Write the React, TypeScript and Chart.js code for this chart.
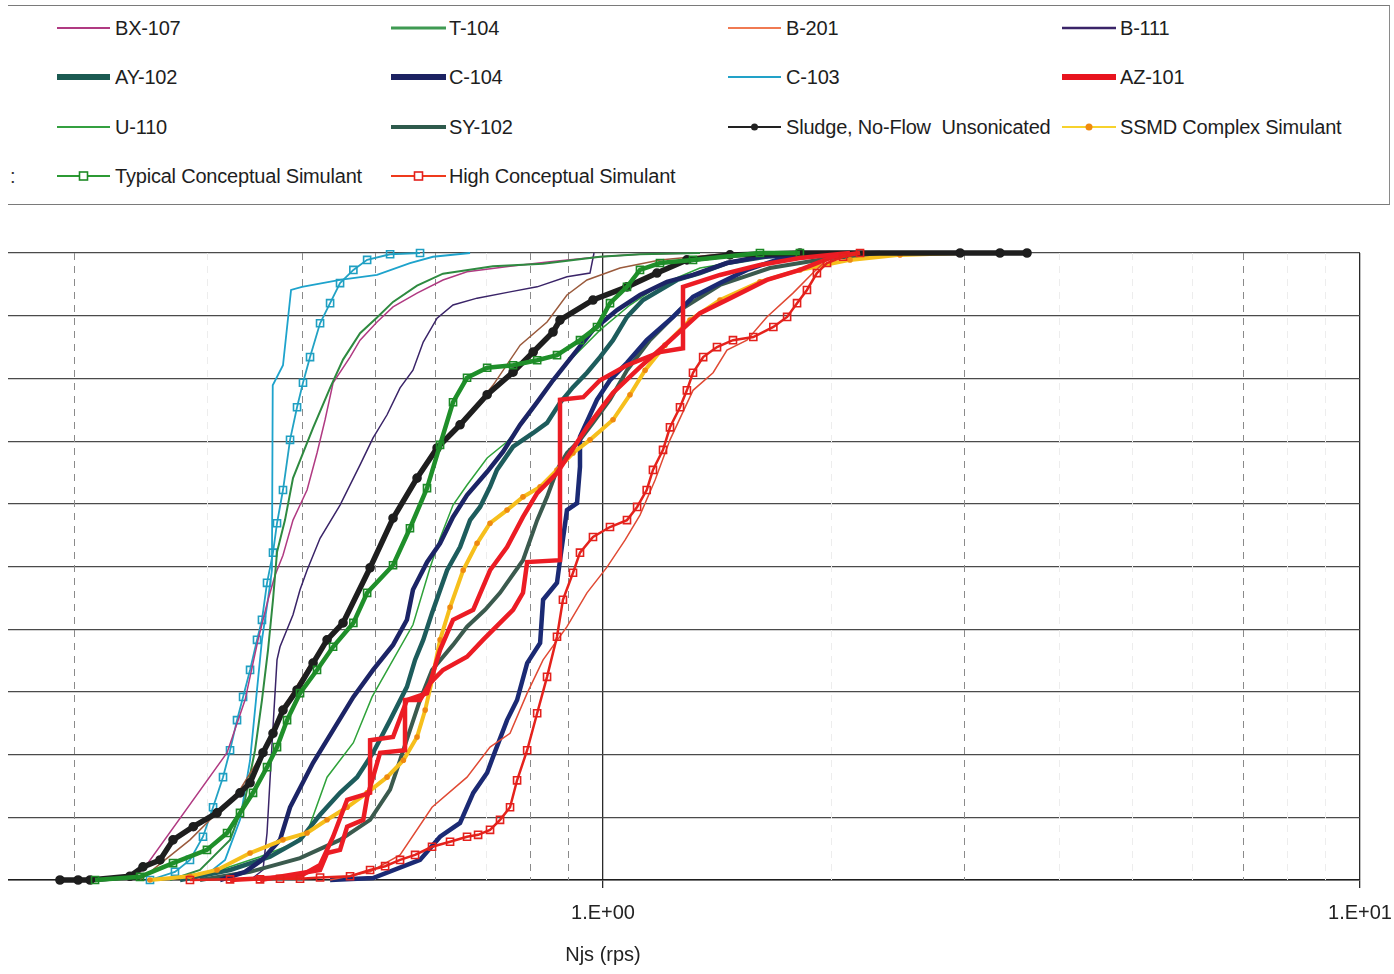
import React, { useEffect, useRef } from 'react';
import { Chart, registerables } from 'chart.js';

Chart.register(...registerables);

const FONT = '"Liberation Sans", Arial, Helvetica, sans-serif';

// ---------- data (Njs in rps, cumulative fraction) ----------
const bx107Njs = [0.2372, 0.2468, 0.3187, 0.3366, 0.3502, 0.361, 0.3688, 0.3778, 0.3895, 0.3979, 0.4065, 0.419, 0.4294, 0.44, 0.4633, 0.4776, 0.5029, 0.528, 0.568, 0.6146, 0.6613, 0.7537, 0.8511, 0.9909, 1.1191, 1.3431];
const bx107Frac = [0, 0.016, 0.203, 0.287, 0.383, 0.447, 0.486, 0.518, 0.574, 0.598, 0.622, 0.681, 0.734, 0.793, 0.834, 0.861, 0.89, 0.914, 0.936, 0.957, 0.97, 0.979, 0.986, 0.994, 0.998, 1];

const t104Njs = [0.2679, 0.2935, 0.3216, 0.3366, 0.347, 0.3544, 0.361, 0.3665, 0.371, 0.3801, 0.3895, 0.414, 0.436, 0.4535, 0.4776, 0.5029, 0.528, 0.568, 0.6146, 0.7155, 0.8334, 0.9909, 1.1191, 1.3431];
const t104Frac = [0, 0.016, 0.064, 0.128, 0.207, 0.287, 0.367, 0.447, 0.523, 0.574, 0.641, 0.721, 0.785, 0.83, 0.872, 0.897, 0.922, 0.948, 0.967, 0.979, 0.983, 0.994, 0.998, 1];

const b201Njs = [0.436, 0.4924, 0.5394, 0.5945, 0.6613, 0.7092, 0.7537, 0.794, 0.8334, 0.8962, 0.9524, 1.0123, 1.0692, 1.1191, 1.1717, 1.226, 1.3149, 1.3977, 1.4581, 1.5494, 1.6463, 1.7822, 1.8931, 1.9765, 2.12];
const b201Frac = [0, 0.013, 0.04, 0.116, 0.164, 0.212, 0.234, 0.298, 0.351, 0.404, 0.458, 0.499, 0.542, 0.582, 0.638, 0.702, 0.781, 0.809, 0.845, 0.861, 0.898, 0.936, 0.968, 0.989, 1];

const b111Njs = [0.3418, 0.3555, 0.3599, 0.3665, 0.371, 0.3744, 0.3895, 0.3979, 0.4065, 0.4229, 0.4494, 0.4776, 0.4969, 0.5185, 0.5394, 0.561, 0.5788, 0.6037, 0.6337, 0.6818, 0.7537, 0.8185, 0.8962, 0.9612, 0.973];
const b111Frac = [0, 0.016, 0.075, 0.244, 0.351, 0.372, 0.423, 0.463, 0.494, 0.545, 0.598, 0.662, 0.705, 0.742, 0.785, 0.813, 0.858, 0.896, 0.917, 0.928, 0.938, 0.946, 0.962, 0.968, 1];

const ay102Njs = [0.2762, 0.3216, 0.3632, 0.3979, 0.4229, 0.4494, 0.4733, 0.4969, 0.5233, 0.5508, 0.5646, 0.5788, 0.5945, 0.6224, 0.6474, 0.6674, 0.688, 0.7092, 0.7243, 0.7607, 0.8087, 0.8435, 0.8774, 0.9128, 0.9524, 0.9909, 1.0309, 1.0757, 1.1294, 1.1893, 1.2525, 1.3431, 1.4581, 1.6616, 1.995];
const ay102Frac = [0, 0.016, 0.037, 0.064, 0.104, 0.139, 0.164, 0.203, 0.255, 0.308, 0.351, 0.383, 0.426, 0.494, 0.531, 0.574, 0.595, 0.627, 0.654, 0.691, 0.713, 0.729, 0.761, 0.786, 0.809, 0.834, 0.861, 0.898, 0.925, 0.941, 0.957, 0.968, 0.984, 0.995, 1];

const c104Njs = [0.3119, 0.3366, 0.3544, 0.3744, 0.386, 0.414, 0.44, 0.468, 0.4969, 0.528, 0.5508, 0.561, 0.5855, 0.6092, 0.6337, 0.6613, 0.703, 0.7379, 0.7772, 0.8185, 0.859, 0.924, 0.97, 1.0435, 1.1191, 1.2148, 1.3149, 1.4581, 1.6119, 1.8203, 2.12];
const c104Frac = [0, 0.013, 0.032, 0.064, 0.116, 0.187, 0.239, 0.292, 0.335, 0.375, 0.415, 0.463, 0.507, 0.537, 0.579, 0.614, 0.651, 0.683, 0.726, 0.762, 0.797, 0.845, 0.877, 0.909, 0.933, 0.954, 0.965, 0.984, 0.994, 0.998, 1];

const c104bNjs = [0.436, 0.4969, 0.5732, 0.6092, 0.6474, 0.6739, 0.703, 0.7155, 0.7469, 0.77, 0.794, 0.8259, 0.8334, 0.8694, 0.8774, 0.8962, 0.924, 0.9324, 0.9324, 0.9819, 1.0215, 1.0757, 1.1422, 1.2374, 1.3149, 1.4273, 1.5494, 1.6963, 1.995, 2.3227];
const c104bFrac = [0, 0.003, 0.032, 0.069, 0.091, 0.139, 0.171, 0.196, 0.255, 0.287, 0.346, 0.378, 0.447, 0.474, 0.51, 0.59, 0.601, 0.659, 0.707, 0.766, 0.797, 0.825, 0.861, 0.898, 0.93, 0.952, 0.973, 0.989, 0.998, 1];

const c103Njs = [0.2935, 0.3168, 0.3315, 0.3418, 0.348, 0.3544, 0.3609, 0.3653, 0.3662, 0.3778, 0.3872, 0.4003, 0.4494, 0.5029, 0.5559, 0.5962, 0.6675];
const c103Frac = [0, 0.032, 0.096, 0.191, 0.287, 0.383, 0.447, 0.494, 0.789, 0.821, 0.941, 0.946, 0.957, 0.965, 0.984, 0.994, 1];

const az101Njs = [0.3216, 0.3979, 0.4229, 0.44, 0.4592, 0.4924, 0.4924, 0.528, 0.5508, 0.5855, 0.6092, 0.6337, 0.6738, 0.7092, 0.7469, 0.784, 0.8185, 0.8694, 0.9524, 1.0309, 1.1191, 1.2148, 1.3431, 1.4849, 1.6463, 1.8203, 2.0132, 2.1855];
const az101Frac = [0, 0.006, 0.024, 0.069, 0.128, 0.139, 0.223, 0.228, 0.287, 0.298, 0.367, 0.415, 0.431, 0.494, 0.531, 0.579, 0.617, 0.649, 0.722, 0.777, 0.818, 0.856, 0.904, 0.93, 0.957, 0.973, 0.994, 1];

const az101bNjs = [0.3523, 0.4229, 0.432, 0.4494, 0.4592, 0.4823, 0.488, 0.4969, 0.5076, 0.5476, 0.5476, 0.5732, 0.5909, 0.6146, 0.6613, 0.6943, 0.7311, 0.7607, 0.784, 0.794, 0.8774, 0.8774, 0.9418, 0.9909, 1.0757, 1.1893, 1.2755, 1.2755, 1.4273, 1.6119, 1.8203, 2.12];
const az101bFrac = [0, 0.016, 0.043, 0.048, 0.085, 0.096, 0.132, 0.164, 0.203, 0.207, 0.287, 0.287, 0.314, 0.335, 0.356, 0.383, 0.41, 0.431, 0.458, 0.507, 0.51, 0.766, 0.77, 0.797, 0.821, 0.842, 0.848, 0.946, 0.965, 0.981, 0.992, 1];

const u110Njs = [0.2599, 0.3119, 0.3523, 0.386, 0.4065, 0.432, 0.468, 0.4954, 0.528, 0.561, 0.5909, 0.6092, 0.6337, 0.6613, 0.703, 0.7469, 0.794, 0.8334, 0.9045, 0.9909, 1.0856, 1.1893, 1.3431, 1.6119, 1.995];
const u110Frac = [0, 0.016, 0.037, 0.056, 0.075, 0.164, 0.219, 0.292, 0.351, 0.407, 0.498, 0.545, 0.598, 0.63, 0.673, 0.699, 0.737, 0.774, 0.829, 0.877, 0.917, 0.949, 0.976, 0.992, 1];

const sy102Njs = [0.2935, 0.3418, 0.3979, 0.4494, 0.4924, 0.5233, 0.5394, 0.5559, 0.5732, 0.5945, 0.6337, 0.6613, 0.6986, 0.7311, 0.784, 0.8185, 0.8435, 0.8694, 0.8962, 0.9324, 0.97, 1.0215, 1.0757, 1.1537, 1.2639, 1.4273, 1.6616, 1.995, 2.468];
const sy102Frac = [0, 0.013, 0.035, 0.064, 0.096, 0.144, 0.191, 0.239, 0.287, 0.335, 0.375, 0.404, 0.431, 0.458, 0.51, 0.574, 0.611, 0.654, 0.681, 0.702, 0.729, 0.766, 0.813, 0.861, 0.909, 0.949, 0.976, 0.992, 1];

const brownNjs = [0.2446, 0.2639, 0.2847, 0.3073, 0.3315, 0.3523, 0.3688, 0.386, 0.414, 0.4494, 0.488, 0.5233, 0.5646, 0.6224, 0.6613, 0.7155, 0.7772, 0.8435, 0.8962, 0.9524, 1.0531, 1.1893, 1.4273, 1.8203];
const brownFrac = [0, 0.032, 0.064, 0.104, 0.144, 0.196, 0.247, 0.292, 0.351, 0.407, 0.486, 0.566, 0.638, 0.705, 0.737, 0.789, 0.853, 0.89, 0.933, 0.957, 0.976, 0.989, 0.998, 1];

const sludgeNjs = [0.1917, 0.2026, 0.2101, 0.2372, 0.2468, 0.2599, 0.2704, 0.2876, 0.3091, 0.3315, 0.3418, 0.3555, 0.3665, 0.3778, 0.3943, 0.414, 0.432, 0.4535, 0.4924, 0.528, 0.568, 0.6037, 0.6474, 0.703, 0.7607, 0.8087, 0.859, 0.8774, 0.97, 1.0757, 1.1783, 1.2907, 1.4714, 1.8203, 2.963, 3.345, 3.632];
const sludgeFrac = [0, 0, 0, 0.006, 0.021, 0.032, 0.064, 0.085, 0.107, 0.139, 0.155, 0.203, 0.234, 0.271, 0.303, 0.346, 0.383, 0.41, 0.498, 0.577, 0.641, 0.689, 0.726, 0.774, 0.81, 0.842, 0.874, 0.893, 0.925, 0.946, 0.968, 0.989, 0.997, 1, 1, 1, 1];

const ssmdNjs = [0.2521, 0.2847, 0.3091, 0.3418, 0.3778, 0.4065, 0.432, 0.4592, 0.488, 0.5185, 0.5449, 0.568, 0.5822, 0.5945, 0.6092, 0.628, 0.6535, 0.6818, 0.7092, 0.7469, 0.784, 0.8259, 0.8694, 0.9128, 0.9612, 1.0309, 1.0856, 1.1366, 1.2076, 1.3029, 1.4273, 1.6119, 1.8203, 2.12, 2.468, 2.963];
const ssmdFrac = [0, 0.006, 0.016, 0.043, 0.064, 0.075, 0.096, 0.116, 0.139, 0.164, 0.191, 0.228, 0.271, 0.319, 0.383, 0.435, 0.494, 0.537, 0.569, 0.59, 0.611, 0.627, 0.654, 0.681, 0.702, 0.734, 0.774, 0.813, 0.853, 0.893, 0.925, 0.954, 0.973, 0.989, 0.997, 1];

const typicalNjs = [0.2133, 0.2446, 0.2704, 0.2998, 0.3187, 0.3315, 0.3449, 0.3599, 0.371, 0.3825, 0.3979, 0.419, 0.44, 0.468, 0.488, 0.528, 0.5559, 0.5855, 0.6092, 0.6337, 0.6613, 0.703, 0.7607, 0.8185, 0.8694, 0.9324, 0.9819, 1.0215, 1.0757, 1.1191, 1.1893, 1.3149, 1.6119, 1.8203];
const typicalFrac = [0, 0.005, 0.027, 0.048, 0.075, 0.107, 0.139, 0.18, 0.212, 0.255, 0.298, 0.335, 0.372, 0.41, 0.458, 0.502, 0.561, 0.625, 0.694, 0.762, 0.801, 0.817, 0.821, 0.829, 0.837, 0.861, 0.882, 0.92, 0.946, 0.973, 0.984, 0.989, 1, 1];

const highNjs = [0.2847, 0.3216, 0.3523, 0.3744, 0.3979, 0.4229, 0.4633, 0.4924, 0.5154, 0.5394, 0.5646, 0.5945, 0.628, 0.6613, 0.6839, 0.7092, 0.7311, 0.7537, 0.77, 0.794, 0.8185, 0.8435, 0.8694, 0.8853, 0.9128, 0.9324, 0.97, 1.0215, 1.0757, 1.1093, 1.1422, 1.1641, 1.2003, 1.226, 1.2639, 1.2907, 1.3149, 1.3561, 1.4145, 1.4849, 1.5796, 1.6789, 1.7507, 1.8044, 1.8596, 1.9168, 1.9765, 2.0758, 2.1855];
const highFrac = [0, 0.001, 0.001, 0.002, 0.002, 0.004, 0.006, 0.016, 0.022, 0.032, 0.04, 0.053, 0.061, 0.069, 0.072, 0.08, 0.096, 0.116, 0.159, 0.207, 0.266, 0.324, 0.388, 0.447, 0.49, 0.522, 0.547, 0.563, 0.574, 0.595, 0.622, 0.654, 0.686, 0.722, 0.754, 0.781, 0.809, 0.834, 0.85, 0.861, 0.866, 0.882, 0.898, 0.92, 0.941, 0.968, 0.984, 0.994, 1];

const cyanSqNjs = [0.2521, 0.272, 0.2847, 0.2962, 0.3054, 0.3148, 0.3216, 0.3285, 0.3346, 0.3418, 0.3491, 0.3544, 0.3599, 0.3665, 0.371, 0.3778, 0.386, 0.3943, 0.4015, 0.4102, 0.4229, 0.436, 0.4494, 0.468, 0.488, 0.5233, 0.5732];
const cyanSqFrac = [0, 0.013, 0.032, 0.069, 0.116, 0.164, 0.207, 0.255, 0.292, 0.335, 0.383, 0.415, 0.474, 0.522, 0.569, 0.622, 0.702, 0.754, 0.793, 0.834, 0.888, 0.92, 0.952, 0.973, 0.989, 0.998, 1];

// axis
const xTickValues = [0.1, 0.2, 0.3, 0.4, 0.5, 0.6, 0.7, 0.8, 0.9, 1, 2, 3, 4, 5, 6, 7, 8, 9, 10];
const xTickLabels: Record<string, string> = { '0.1': '1.E-01', '1': '1.E+00', '10': '1.E+01' };
const minorGridStrong = [0.2, 0.4, 0.5, 0.6, 0.8, 0.9, 3, 7];
const minorGridFaint = [0.3, 0.7, 2, 4, 5, 6, 8, 9];
const xTitle = 'Njs (rps)';

type Sty = {
  color: string; width: number; point?: string; pr?: number; pColor?: string; pFill?: string; order: number;
};

const series: { label: string; xs: number[]; ys: number[]; s: Sty }[] = [
  { label: 'High Conceptual Simulant', xs: highNjs, ys: highFrac, s: { color: '#e5221c', width: 2.5, point: 'rect', pr: 5, pColor: '#e3201c', pFill: 'rgba(255,255,255,0)', order: 0 } },
  { label: 'AZ-101', xs: az101Njs, ys: az101Frac, s: { color: '#ec1c24', width: 4.5, order: 1 } },
  { label: 'AZ-101 b', xs: az101bNjs, ys: az101bFrac, s: { color: '#ec1c24', width: 4.5, order: 2 } },
  { label: 'B-201', xs: b201Njs, ys: b201Frac, s: { color: '#e04a34', width: 1.5, order: 3 } },
  { label: 'Typical Conceptual Simulant', xs: typicalNjs, ys: typicalFrac, s: { color: '#1f8f2a', width: 4.5, point: 'rect', pr: 5, pColor: '#1c8a26', pFill: 'rgba(255,255,255,0)', order: 4 } },
  { label: 'Sludge, No-Flow Unsonicated', xs: sludgeNjs, ys: sludgeFrac, s: { color: '#1e1e1e', width: 5.5, point: 'circle', pr: 4, pColor: '#1e1e1e', pFill: '#1e1e1e', order: 5 } },
  { label: 'brown', xs: brownNjs, ys: brownFrac, s: { color: '#9a5a3c', width: 1.5, order: 6 } },
  { label: 'SSMD Complex Simulant', xs: ssmdNjs, ys: ssmdFrac, s: { color: '#f6bf1c', width: 4, point: 'circle', pr: 2, pColor: '#ef8a10', pFill: '#ef8a10', order: 7 } },
  { label: 'C-104', xs: c104Njs, ys: c104Frac, s: { color: '#1c2466', width: 4.5, order: 8 } },
  { label: 'C-104 b', xs: c104bNjs, ys: c104bFrac, s: { color: '#1b2a74', width: 4.5, order: 9 } },
  { label: 'AY-102', xs: ay102Njs, ys: ay102Frac, s: { color: '#1d5c5c', width: 4.5, order: 10 } },
  { label: 'SY-102', xs: sy102Njs, ys: sy102Frac, s: { color: '#3b5a4e', width: 4, order: 11 } },
  { label: 'U-110', xs: u110Njs, ys: u110Frac, s: { color: '#2fa23a', width: 1.5, order: 12 } },
  { label: 'T-104', xs: t104Njs, ys: t104Frac, s: { color: '#2e8a40', width: 2, order: 13 } },
  { label: 'BX-107', xs: bx107Njs, ys: bx107Frac, s: { color: '#b03a82', width: 1.5, order: 14 } },
  { label: 'B-111', xs: b111Njs, ys: b111Frac, s: { color: '#3a2468', width: 1.5, order: 15 } },
  { label: 'cyan squares', xs: cyanSqNjs, ys: cyanSqFrac, s: { color: '#22a2c4', width: 1.8, point: 'rect', pr: 5, pColor: '#1f9fc2', pFill: 'rgba(255,255,255,0)', order: 16 } },
  { label: 'C-103', xs: c103Njs, ys: c103Frac, s: { color: '#1ea3cc', width: 1.8, order: 17 } },
];

// legend layout (page coordinates of rows / columns)
const legendRows = [28, 77, 127, 176];
const legendCols = [
  { s0: 57, s1: 110, t: 115 },
  { s0: 391, s1: 446, t: 449 },
  { s0: 728, s1: 781, t: 786 },
  { s0: 1062, s1: 1116, t: 1120 },
];
type LegItem = { text: string; color: string; w: number; marker?: 'dot' | 'square'; mColor?: string };
const legendItems: LegItem[] = [
  { text: 'BX-107', color: '#b03a82', w: 2 },
  { text: 'T-104', color: '#3f9a52', w: 3 },
  { text: 'B-201', color: '#f07a52', w: 2 },
  { text: 'B-111', color: '#3a2468', w: 2.5 },
  { text: 'AY-102', color: '#1b5a52', w: 6 },
  { text: 'C-104', color: '#1c2262', w: 6 },
  { text: 'C-103', color: '#22a2c8', w: 2 },
  { text: 'AZ-101', color: '#e8141e', w: 6 },
  { text: 'U-110', color: '#34a040', w: 2 },
  { text: 'SY-102', color: '#2e5a4c', w: 4 },
  { text: 'Sludge, No-Flow  Unsonicated', color: '#222', w: 2, marker: 'dot', mColor: '#222' },
  { text: 'SSMD Complex Simulant', color: '#f7d22c', w: 2, marker: 'dot', mColor: '#f08a10' },
  { text: 'Typical Conceptual Simulant', color: '#2c9a34', w: 2, marker: 'square', mColor: '#1f8a26' },
  { text: 'High Conceptual Simulant', color: '#ef3a1c', w: 2, marker: 'square', mColor: '#e3201c' },
];

const CONTAINER_LEFT = 8;

const minorGridPlugin = {
  id: 'minorGrid',
  beforeDatasetsDraw(chart: any) {
    const { ctx, chartArea, scales } = chart;
    const xs = scales.x;
    ctx.save();
    ctx.lineWidth = 1;
    ctx.setLineDash([7, 6]);
    const draw = (vals: number[], color: string) => {
      ctx.strokeStyle = color;
      vals.forEach((v) => {
        const px = Math.round(xs.getPixelForValue(v)) + 0.5;
        ctx.beginPath();
        ctx.moveTo(px, chartArea.top);
        ctx.lineTo(px, chartArea.bottom);
        ctx.stroke();
      });
    };
    draw(minorGridFaint, '#ededed');
    draw(minorGridStrong, '#8a8a8a');
    ctx.restore();
  },
};

function LegendSample({ item, col, row }: { item: LegItem; col: number; row: number }) {
  const c = legendCols[col];
  const y = legendRows[row];
  const w = c.s1 - c.s0;
  return (
    <>
      <svg
        width={w}
        height={20}
        style={{ position: 'absolute', left: c.s0 - CONTAINER_LEFT, top: y - 10 }}
      >
        <line x1={0} y1={10} x2={w} y2={10} stroke={item.color} strokeWidth={item.w} />
        {item.marker === 'dot' && <circle cx={w / 2} cy={10} r={3.5} fill={item.mColor} />}
        {item.marker === 'square' && (
          <rect x={w / 2 - 4} y={6} width={8} height={8} fill="white" stroke={item.mColor} strokeWidth={1.6} />
        )}
      </svg>
      <div
        style={{
          position: 'absolute',
          left: c.t - CONTAINER_LEFT,
          top: y - 12,
          height: 24,
          lineHeight: '24px',
          fontFamily: FONT,
          fontSize: 20,
          letterSpacing: '-0.2px',
          color: '#1e1e1e',
          whiteSpace: 'pre',
        }}
      >
        {item.text}
      </div>
    </>
  );
}

export default function App() {
  const canvasRef = useRef<HTMLCanvasElement | null>(null);

  useEffect(() => {
    document.body.style.overflow = 'hidden';
    const canvas = canvasRef.current;
    if (!canvas) return;
    Chart.defaults.font.family = FONT;
    const chart = new Chart(canvas, {
      type: 'line',
      data: {
        datasets: series.map((sr) => ({
          label: sr.label,
          data: sr.xs.map((x, i) => ({ x, y: sr.ys[i] })),
          borderColor: sr.s.color,
          backgroundColor: sr.s.color,
          borderWidth: sr.s.width,
          pointRadius: sr.s.point ? sr.s.pr : 0,
          pointStyle: (sr.s.point || 'circle') as any,
          pointBorderColor: sr.s.pColor || sr.s.color,
          pointBackgroundColor: sr.s.pFill || sr.s.color,
          pointBorderWidth: 1.6,
          fill: false,
          tension: 0,
          order: sr.s.order,
          clip: false as any,
        })),
      },
      options: {
        responsive: false,
        animation: false,
        devicePixelRatio: 1,
        events: [],
        layout: { padding: { left: 46, right: 34, top: 43, bottom: 3 } },
        plugins: { legend: { display: false }, tooltip: { enabled: false }, title: { display: false } },
        scales: {
          x: {
            type: 'logarithmic',
            min: 0.1,
            max: 10,
            afterBuildTicks: (s: any) => {
              s.ticks = xTickValues.map((v) => ({ value: v }));
            },
            afterFit: (s: any) => {
              s.paddingLeft = 0;
              s.paddingRight = 0;
            },
            ticks: {
              autoSkip: false,
              maxRotation: 0,
              minRotation: 0,
              padding: 13,
              color: '#222',
              font: { family: FONT, size: 20 },
              callback: (v: any) => xTickLabels[String(v)] ?? '',
            },
            grid: {
              drawOnChartArea: true,
              drawTicks: true,
              tickLength: 8,
              lineWidth: 1.3,
              color: (c: any) => (c.tick && (c.tick.value === 1 || c.tick.value === 10) ? '#2a2a2a' : 'rgba(0,0,0,0)'),
              tickColor: (c: any) => (c.tick && (c.tick.value === 1 || c.tick.value === 10) ? '#2a2a2a' : 'rgba(0,0,0,0)'),
            },
            border: { display: true, color: '#1e1e1e', width: 1.6 },
            title: {
              display: true,
              text: xTitle,
              color: '#222',
              font: { family: FONT, size: 20 },
              padding: { top: 5, bottom: 4 },
            },
          } as any,
          y: {
            type: 'linear',
            min: 0,
            max: 1,
            ticks: { display: false, stepSize: 0.1 },
            grid: { color: '#4a4a4a', lineWidth: 1.2, drawTicks: false },
            border: { display: false },
            afterFit: (s: any) => {
              s.width = 0;
            },
          } as any,
        },
      },
      plugins: [minorGridPlugin],
    });
    return () => chart.destroy();
  }, []);

  return (
    <div
      style={{
        position: 'absolute',
        left: CONTAINER_LEFT,
        top: 0,
        width: 1394 - CONTAINER_LEFT,
        height: 974,
        overflow: 'hidden',
        background: '#fff',
      }}
    >
      <div
        style={{
          position: 'absolute',
          left: -4,
          top: 5,
          width: 1390 - CONTAINER_LEFT + 4,
          height: 200,
          boxSizing: 'border-box',
          borderTop: '1.5px solid #7a7a7a',
          borderRight: '1.5px solid #8a8a8a',
          borderBottom: '1.5px solid #7a7a7a',
        }}
      />
      <div
        style={{
          position: 'absolute',
          left: 10 - CONTAINER_LEFT,
          top: 164,
          lineHeight: '24px',
          fontFamily: FONT,
          fontSize: 20,
          color: '#333',
        }}
      >
        :
      </div>
      {legendItems.map((it, i) => (
        <LegendSample key={it.text} item={it} col={i % 4} row={Math.floor(i / 4)} />
      ))}
      <canvas
        ref={canvasRef}
        width={1594}
        height={764}
        style={{ position: 'absolute', left: -200 - CONTAINER_LEFT, top: 210, width: 1594, height: 764 }}
      />
    </div>
  );
}
